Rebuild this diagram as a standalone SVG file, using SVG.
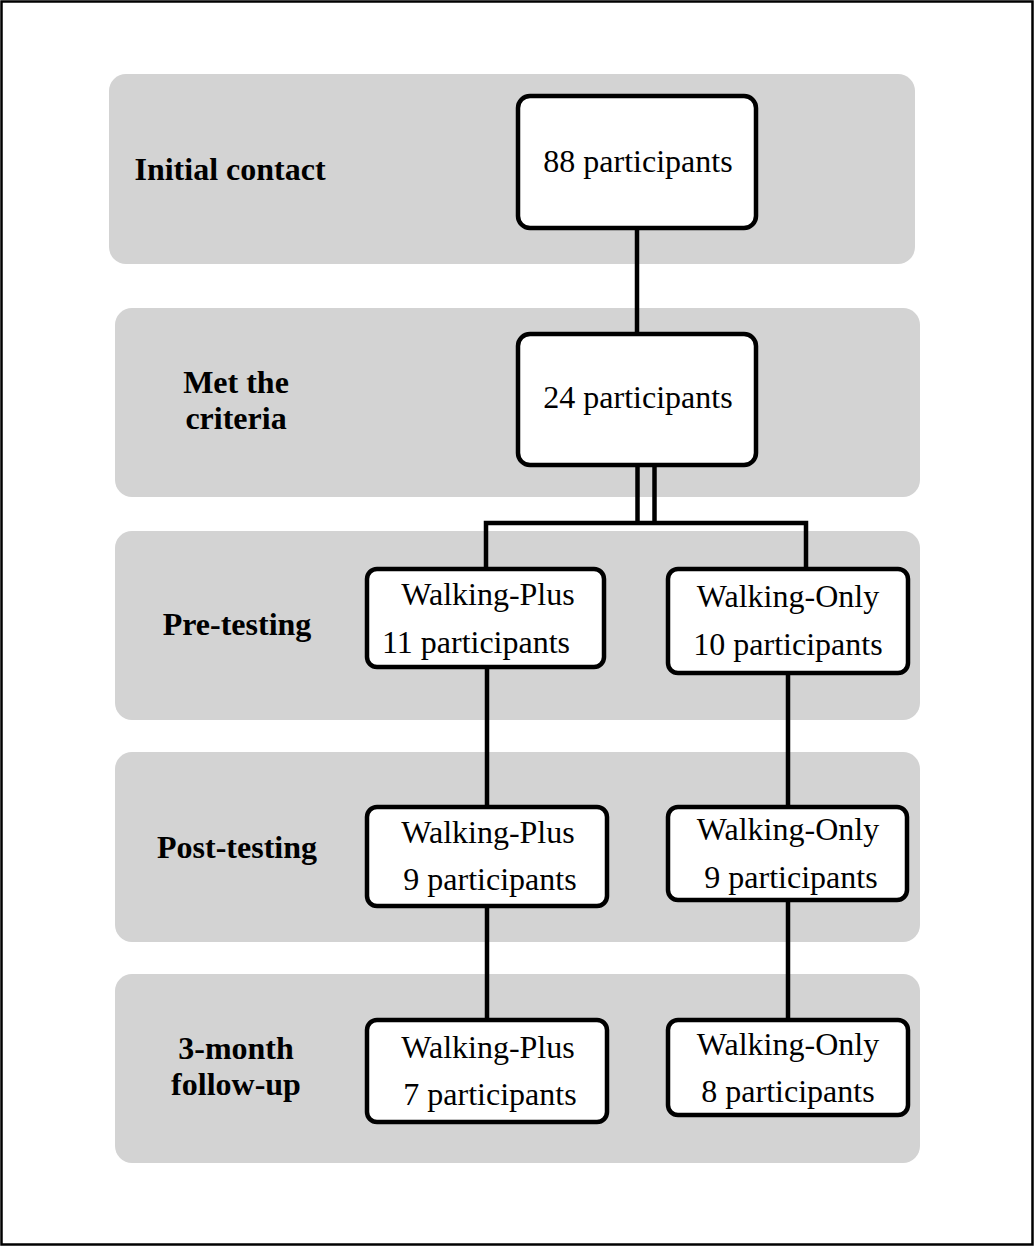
<svg xmlns="http://www.w3.org/2000/svg" width="1035" height="1247" viewBox="0 0 1035 1247">
<style>
.band{fill:#d3d3d3}
.box{fill:#fff;stroke:#000;stroke-width:4.5}
.lbl{font-family:"Liberation Serif","Times New Roman",serif;font-weight:bold;font-size:32px;fill:#000;text-anchor:middle}
.txt{font-family:"Liberation Serif","Times New Roman",serif;font-size:32px;fill:#000;text-anchor:middle}
.con{stroke:#000;stroke-width:4.5;fill:none}
</style>
<rect x="1.5" y="1.5" width="1031" height="1243" fill="#fff" stroke="#000" stroke-width="2.5"/>
<g id="bands">
<rect class="band" x="109" y="74" width="806" height="190" rx="17"/>
<rect class="band" x="115" y="308" width="805" height="189" rx="17"/>
<rect class="band" x="115" y="531" width="805" height="189" rx="17"/>
<rect class="band" x="115" y="752" width="805" height="190" rx="17"/>
<rect class="band" x="115" y="974" width="805" height="189" rx="17"/>
</g>
<g id="stage-labels">
<text class="lbl" x="230" y="180">Initial contact</text>
<text class="lbl" x="236" y="393">Met the</text>
<text class="lbl" x="236" y="429">criteria</text>
<text class="lbl" x="237" y="635">Pre-testing</text>
<text class="lbl" x="237" y="858">Post-testing</text>
<text class="lbl" x="236" y="1059">3-month</text>
<text class="lbl" x="236" y="1095">follow-up</text>
</g>
<g id="connectors">
<line class="con" x1="637" y1="228" x2="637" y2="334"/>
<line class="con" x1="637.5" y1="465" x2="637.5" y2="523"/>
<line class="con" x1="654.5" y1="465" x2="654.5" y2="523"/>
<polyline class="con" points="486,569 486,523 806,523 806,569"/>
<line class="con" x1="487" y1="667" x2="487" y2="807"/>
<line class="con" x1="487" y1="906" x2="487" y2="1020"/>
<line class="con" x1="788" y1="673" x2="788" y2="807"/>
<line class="con" x1="788" y1="900" x2="788" y2="1020"/>
</g>
<g id="n88">
<rect class="box" x="518" y="96" width="238" height="132" rx="12"/>
<text class="txt" x="638" y="172">88 participants</text>
</g>
<g id="n24">
<rect class="box" x="518" y="334" width="238" height="131" rx="12"/>
<text class="txt" x="638" y="408">24 participants</text>
</g>
<g id="pre-plus">
<rect class="box" x="367" y="569" width="237" height="98" rx="10"/>
<text class="txt" x="488" y="605">Walking-Plus</text>
<text class="txt" x="476" y="653">11 participants</text>
</g>
<g id="pre-only">
<rect class="box" x="668" y="569" width="240" height="104" rx="10"/>
<text class="txt" x="788" y="607">Walking-Only</text>
<text class="txt" x="788" y="655">10 participants</text>
</g>
<g id="post-plus">
<rect class="box" x="367" y="807" width="240" height="99" rx="10"/>
<text class="txt" x="488" y="843">Walking-Plus</text>
<text class="txt" x="490" y="890">9 participants</text>
</g>
<g id="post-only">
<rect class="box" x="668" y="807" width="239" height="93" rx="10"/>
<text class="txt" x="788" y="840">Walking-Only</text>
<text class="txt" x="791" y="888">9 participants</text>
</g>
<g id="fu-plus">
<rect class="box" x="367" y="1020" width="240" height="102" rx="10"/>
<text class="txt" x="488" y="1058">Walking-Plus</text>
<text class="txt" x="490" y="1105">7 participants</text>
</g>
<g id="fu-only">
<rect class="box" x="668" y="1020" width="240" height="95" rx="10"/>
<text class="txt" x="788" y="1055">Walking-Only</text>
<text class="txt" x="788" y="1102">8 participants</text>
</g>
</svg>
